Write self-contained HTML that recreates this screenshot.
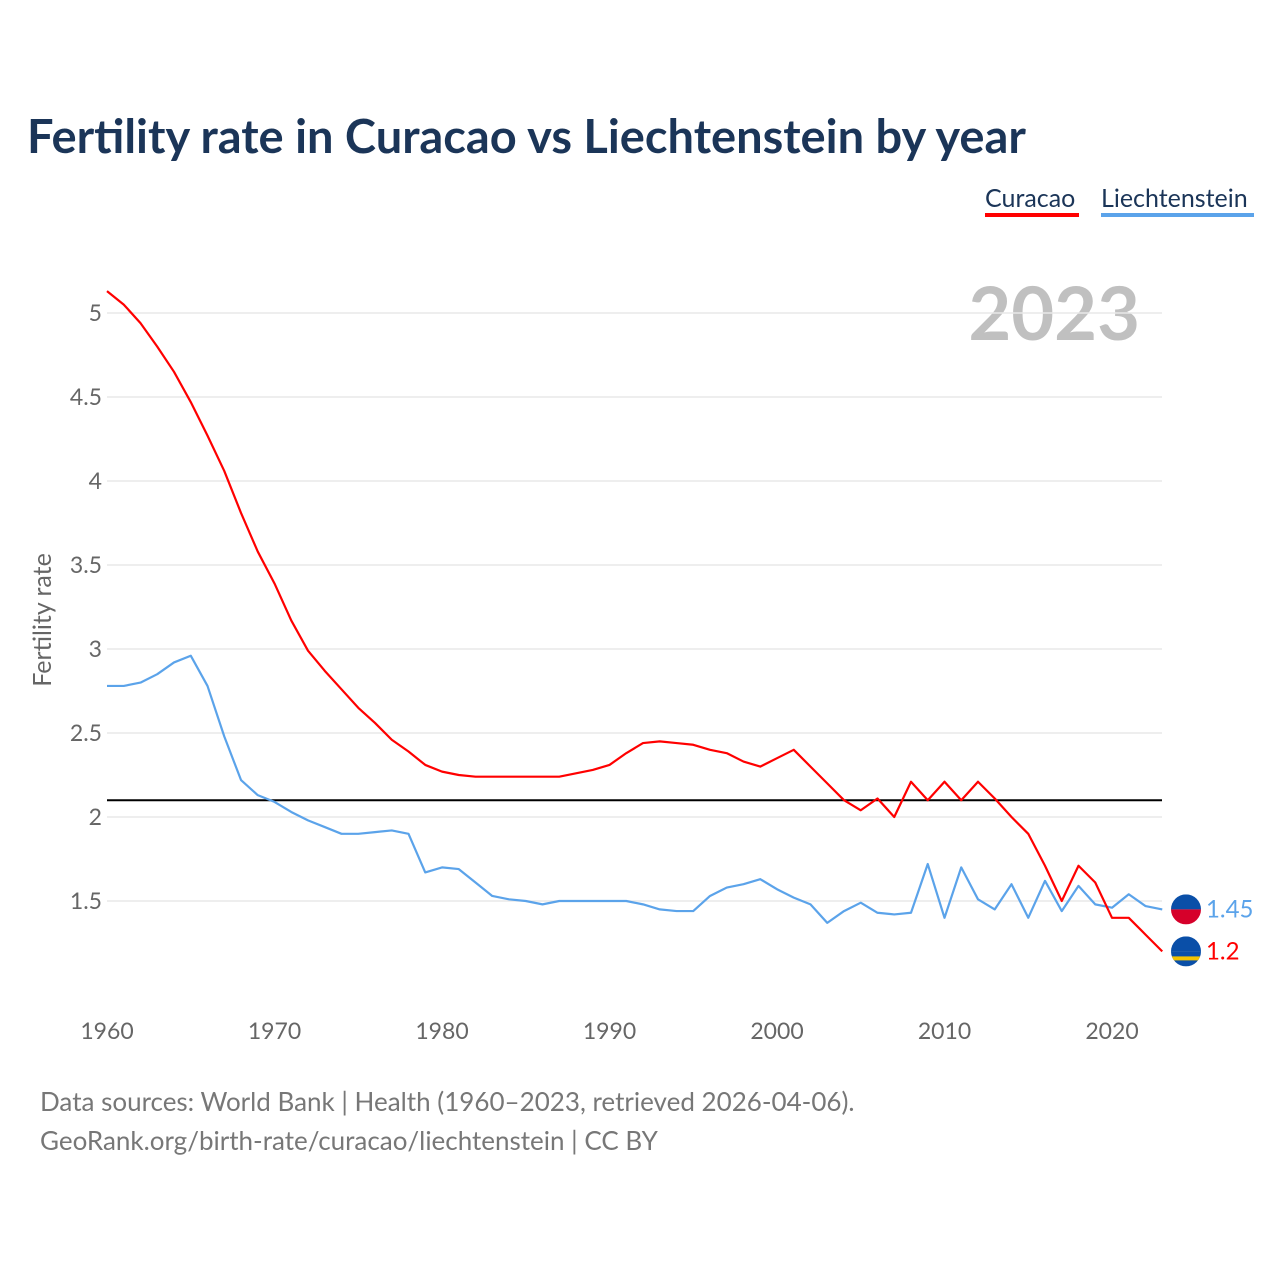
<!DOCTYPE html>
<html><head><meta charset="utf-8"><style>
body{margin:0;background:#fff;font-family:"Liberation Sans",sans-serif}
svg text{font-family:"Lato","Liberation Sans",sans-serif}
</style></head><body>
<svg width="1280" height="1280" viewBox="0 0 1280 1280" xmlns="http://www.w3.org/2000/svg" id="chart">
<text x="27" y="153" font-size="47" font-weight="bold" fill="#1b3558">Fertility rate in Curacao vs Liechtenstein by year</text>
<g>
<g><text x="985" y="207" font-size="25" fill="#1b3558">Curacao</text><rect x="985" y="213" width="94" height="4" fill="#f00"/></g>
<g><text x="1101" y="207" font-size="25" fill="#1b3558">Liechtenstein</text><rect x="1101" y="213" width="153" height="4" fill="#5ba3ea"/></g>
</g>
<text x="1140" y="340" font-size="74" font-weight="bold" fill="#c0c0c0" text-anchor="end">2023</text>
<text transform="translate(51,620) rotate(-90)" font-size="25" fill="#666" text-anchor="middle">Fertility rate</text>
<g id="grid"></g><g id="yt"></g><g id="xt"></g><g id="lines"></g>
<text x="40" y="1111" font-size="26" fill="#777">Data sources: World Bank | Health (1960–2023, retrieved 2026-04-06).</text>
<text x="40" y="1150" font-size="26" fill="#777">GeoRank.org/birth-rate/curacao/liechtenstein | CC BY</text>
</svg>
<script>
const years=[];for(let y=1960;y<=2023;y++)years.push(y);
const curacao=[5.13,5.05,4.94,4.80,4.65,4.47,4.27,4.06,3.81,3.58,3.39,3.17,2.99,2.87,2.76,2.65,2.56,2.46,2.39,2.31,2.27,2.25,2.24,2.24,2.24,2.24,2.24,2.24,2.26,2.28,2.31,2.38,2.44,2.45,2.44,2.43,2.40,2.38,2.33,2.30,2.35,2.40,2.30,2.20,2.10,2.04,2.11,2.00,2.21,2.10,2.21,2.10,2.21,2.11,2.00,1.90,1.71,1.50,1.71,1.61,1.40,1.40,1.30,1.20];
const liechtenstein=[2.78,2.78,2.80,2.85,2.92,2.96,2.78,2.48,2.22,2.13,2.09,2.03,1.98,1.94,1.90,1.90,1.91,1.92,1.90,1.67,1.70,1.69,1.61,1.53,1.51,1.50,1.48,1.50,1.50,1.50,1.50,1.50,1.48,1.45,1.44,1.44,1.53,1.58,1.60,1.63,1.57,1.52,1.48,1.37,1.44,1.49,1.43,1.42,1.43,1.72,1.40,1.70,1.51,1.45,1.60,1.40,1.62,1.44,1.59,1.48,1.46,1.54,1.47,1.45];
const yTicks=[1.5,2,2.5,3,3.5,4,4.5,5];
const xTicks=[1960,1970,1980,1990,2000,2010,2020];
const replacement=2.1;
const X=y=>107+(y-1960)*16.75, Y=v=>313+(5-v)*168;
const NS='http://www.w3.org/2000/svg';
function mk(t,a,p){const e=document.createElementNS(NS,t);for(const k in a)e.setAttribute(k,a[k]);p.appendChild(e);return e;}
const g=document.getElementById('grid'),yt=document.getElementById('yt'),xt=document.getElementById('xt'),L=document.getElementById('lines');
yTicks.forEach(v=>{
 const l=mk('line',{x1:107,x2:1162,y1:Y(v),y2:Y(v),stroke:'#e8e8e8','stroke-width':1.5},g);
 
 
 const t=mk('text',{x:102,y:Y(v)+8,'font-size':23,fill:'#666','text-anchor':'end'},yt);t.textContent=v;
 
 
});
xTicks.forEach(v=>{
 const t=mk('text',{x:X(v),y:1039,'font-size':23,fill:'#666','text-anchor':'middle'},xt);t.textContent=v;
 
 
});
const rl=mk('line',{x1:107,x2:1162,y1:Y(replacement),y2:Y(replacement),stroke:'#000','stroke-width':2},L);


function series(arr,col,name){
 const p=mk('polyline',{points:arr.map((v,i)=>X(years[i])+','+Y(v)).join(' '),fill:'none',stroke:col,'stroke-width':2.2,'stroke-linejoin':'round'},L);
 
 
}
series(liechtenstein,'#5ba3ea','line-liechtenstein');
series(curacao,'#f00','line-curacao');
function endLabel(arr,col,name,top,bot,stripe){
 const last=arr[arr.length-1],cx=1186,cy=Y(last);
 const gg=mk('g',{},L);
 
 
 const cp=mk('clipPath',{id:'c'+name},gg);
 mk('circle',{cx:cx,cy:cy,r:15},cp);
 mk('rect',{x:cx-15,y:cy-15,width:30,height:15,fill:top,'clip-path':'url(#c'+name+')'},gg);
 mk('rect',{x:cx-15,y:cy,width:30,height:15,fill:bot,'clip-path':'url(#c'+name+')'},gg);
 if(stripe)mk('rect',{x:cx-15,y:cy+5,width:30,height:4,fill:'#f5c400','clip-path':'url(#c'+name+')'},gg);
 const t=mk('text',{x:1206,y:cy+8,'font-size':24,fill:col},L);t.textContent=last;
 
 
}
endLabel(liechtenstein,'#5ba3ea','liechtenstein','#0a4fa8','#d6002a',false);
endLabel(curacao,'#f00','curacao','#0a4fa8','#0a4fa8',true);
</script>
</body></html>
